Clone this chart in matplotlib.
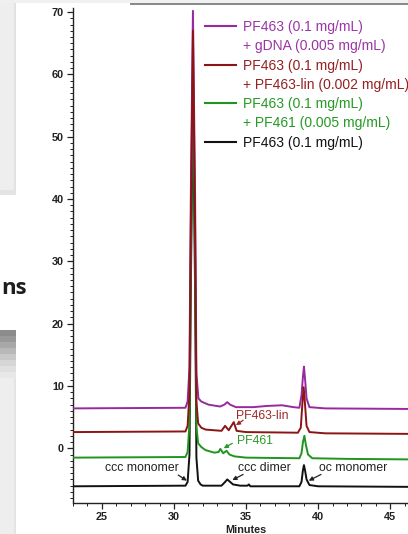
import matplotlib
matplotlib.use("Agg")
import matplotlib.pyplot as plt
from matplotlib.lines import Line2D
from matplotlib.patches import Rectangle

# ---------------- data ----------------
black_x = [23.0, 30.8, 30.95, 31.08, 31.17, 31.32, 31.47, 31.56, 31.68, 31.85, 32.0, 33.3,
           33.55, 33.7, 33.85, 34.1, 34.6, 35.1, 35.2, 35.3, 38.7, 38.85, 38.95, 39.02,
           39.1, 39.2, 39.4, 40.0, 47.0]
black_y = [-6.1, -6.0, -5.4, -1.0, 25.0, 56.0, 25.0, -1.5, -5.2, -5.8, -6.0, -6.0,
           -5.4, -5.0, -5.3, -5.8, -6.0, -6.0, -5.8, -6.1, -6.1, -5.4, -3.5, -2.7,
           -3.6, -5.0, -5.9, -6.1, -6.2]

green_x = [23.0, 30.8, 30.95, 31.08, 31.17, 31.32, 31.47, 31.56, 31.68, 31.9, 32.2, 32.8,
           33.1, 33.22, 33.42, 33.65, 33.85, 34.2, 35.0, 38.7, 38.85, 38.95, 39.05,
           39.15, 39.3, 39.6, 42.0, 47.0]
green_y = [-1.5, -1.4, -0.6, 4.0, 30.0, 61.0, 30.0, 3.5, 0.8, 0.2, -0.3, -0.7,
           -0.6, -0.1, -0.8, -0.4, -1.0, -1.3, -1.5, -1.6, -0.8, 1.0, 2.0,
           0.6, -1.0, -1.6, -1.7, -1.8]

red_x = [23.0, 30.8, 30.95, 31.08, 31.17, 31.32, 31.47, 31.56, 31.68, 31.9, 32.2, 33.3,
         33.55, 33.8, 34.15, 34.35, 35.0, 38.6, 38.8, 38.92, 39.0, 39.08, 39.2,
         39.4, 40.5, 47.0]
red_y = [2.6, 2.7, 3.6, 9.0, 35.0, 67.0, 35.0, 7.5, 4.0, 3.3, 3.0, 2.8,
         3.6, 2.9, 4.2, 2.8, 2.6, 2.5, 3.3, 7.5, 9.8, 7.5, 3.6,
         2.6, 2.4, 2.3]

purple_x = [23.0, 30.8, 30.95, 31.08, 31.17, 31.32, 31.47, 31.56, 31.7, 31.9, 32.4,
            33.2, 33.5, 33.7, 33.9, 34.3, 35.5, 36.5, 37.5, 38.3, 38.7, 38.85, 38.95,
            39.02, 39.1, 39.2, 39.4, 40.5, 47.0]
purple_y = [6.4, 6.5, 7.5, 13.0, 40.0, 70.2, 40.0, 12.0, 8.0, 7.5, 7.0,
            6.7, 7.0, 7.4, 7.0, 6.6, 6.6, 6.8, 6.9, 6.6, 6.5, 8.5, 11.5,
            13.1, 11.0, 8.0, 6.6, 6.4, 6.3]

legend_labels = ["PF463 (0.1 mg/mL)", "+ gDNA (0.005 mg/mL)",
                 "PF463 (0.1 mg/mL)", "+ PF463-lin (0.002 mg/mL)",
                 "PF463 (0.1 mg/mL)", "+ PF461 (0.005 mg/mL)",
                 "PF463 (0.1 mg/mL)"]

x_ticks = [25, 30, 35, 40, 45]
y_ticks = [0, 10, 20, 30, 40, 50, 60, 70]

# annotations: (text, text position, arrow start, arrow head, colour)
notes = [
    ("ccc monomer", (27.75, -3.2), (30.3, -4.3), (30.9, -5.2), "#222222"),
    ("ccc dimer", (36.25, -3.2), (34.8, -4.2), (34.05, -5.1), "#222222"),
    ("oc monomer", (42.4, -3.2), (40.2, -4.2), (39.35, -5.2), "#222222"),
    ("PF463-lin", (36.1, 5.2), (34.8, 4.5), (34.3, 3.7), "#9a2a2a"),
    ("PF461", (35.6, 1.15), (34.05, 0.8), (33.45, 0.0), "#2a9a2a"),
]

# ---------------- styling ----------------
PURPLE = "#962a9e"
RED = "#8c1414"
GREEN = "#1f951f"
BLACK = "#111111"
FONT = "Liberation Sans"

W, H = 408, 534
fig = plt.figure(figsize=(W / 100, H / 100), dpi=100)
fig.patch.set_facecolor("white")

# slide decorations on the left
def rect_px(x, y_top, w, h, color):
    fig.add_artist(Rectangle((x / W, 1 - (y_top + h) / H), w / W, h / H,
                             transform=fig.transFigure, facecolor=color,
                             edgecolor="none", zorder=0))

rect_px(0, 0, 16, 195, "#eeeeee")
rect_px(14, 0, 2, 195, "#e2e2e2")
rect_px(0, 190, 16, 5, "#e4e4e4")
grad = ["#8c8c8c", "#999999", "#a8a8a8", "#b8b8b8", "#c8c8c8", "#d6d6d6", "#e0e0e0", "#e8e8e8"]
for i, c in enumerate(grad):
    rect_px(0, 330 + i * 6, 16, 6, c)
rect_px(0, 378, 16, 156, "#eeeeee")
rect_px(14, 378, 2, 156, "#e4e4e4")
rect_px(0, 0, W, 3, "#f0f0f0")
rect_px(130, 3, W - 130, 2, "#8a8a8a")
fig.text(1 / W, 1 - 294 / H, "ns", fontsize=16, fontweight="bold",
         family="Open Sans", color="#1e1e1e", ha="left", va="baseline")

# axes
ax = fig.add_axes([73 / W, 31.5 / H, 346 / W, 494.2 / H])
ax.set_facecolor("none")
ax.set_xlim(23.0, 47.0)
ax.set_ylim(-8.7, 70.6)

ax.plot(black_x, black_y, color=BLACK, lw=1.4, zorder=3)
ax.plot(green_x, green_y, color=GREEN, lw=1.4, zorder=4)
ax.plot(purple_x, purple_y, color=PURPLE, lw=1.4, zorder=5)
ax.plot(red_x, red_y, color=RED, lw=1.4, zorder=6)

for txt, tpos, start, head, col in notes:
    ax.annotate("", xy=head, xytext=start,
                arrowprops=dict(arrowstyle="-|>", color=col, lw=0.9,
                                mutation_scale=6, shrinkA=0, shrinkB=0))
    ax.text(tpos[0], tpos[1], txt, color=col, fontsize=8.8, family=FONT,
            ha="center", va="center", zorder=7)

for s in ["top", "right"]:
    ax.spines[s].set_visible(False)
for s in ["left", "bottom"]:
    ax.spines[s].set_linewidth(1.0)
    ax.spines[s].set_color("#222222")

ax.set_xticks(x_ticks)
ax.set_xticks(range(23, 48), minor=True)
ax.set_yticks(y_ticks)
ax.set_yticks(range(-8, 71), minor=True)
ax.tick_params(which="major", length=4, width=0.9, color="#222222", pad=2.5)
ax.tick_params(which="minor", length=2.2, width=0.7, color="#222222")
for lab in ax.get_xticklabels() + ax.get_yticklabels():
    lab.set_fontfamily(FONT)
    lab.set_fontweight("bold")
    lab.set_fontsize(7.8)
    lab.set_color("#222222")
ax.set_xlabel("Minutes", fontsize=7.8, fontweight="bold", family=FONT,
              color="#222222", labelpad=2.5)

# legend
handles = [Line2D([], [], color=PURPLE, lw=1.5), Line2D([], [], color="none"),
           Line2D([], [], color=RED, lw=1.5), Line2D([], [], color="none"),
           Line2D([], [], color=GREEN, lw=1.5), Line2D([], [], color="none"),
           Line2D([], [], color=BLACK, lw=1.5)]
text_cols = ["#9a35a5", "#9a35a5", "#952020", "#952020", "#249a24", "#249a24", "#111111"]
leg = ax.legend(handles, legend_labels, loc="upper left",
                bbox_to_anchor=((205 - 73) / 346, (502.5 - 20) / 494.2),
                frameon=False, borderpad=0, borderaxespad=0,
                handlelength=2.25, handletextpad=0.5, labelspacing=0.38,
                prop={"family": FONT, "size": 10})
for t, c in zip(leg.get_texts(), text_cols):
    t.set_color(c)

fig.savefig("out.png", dpi=100)
